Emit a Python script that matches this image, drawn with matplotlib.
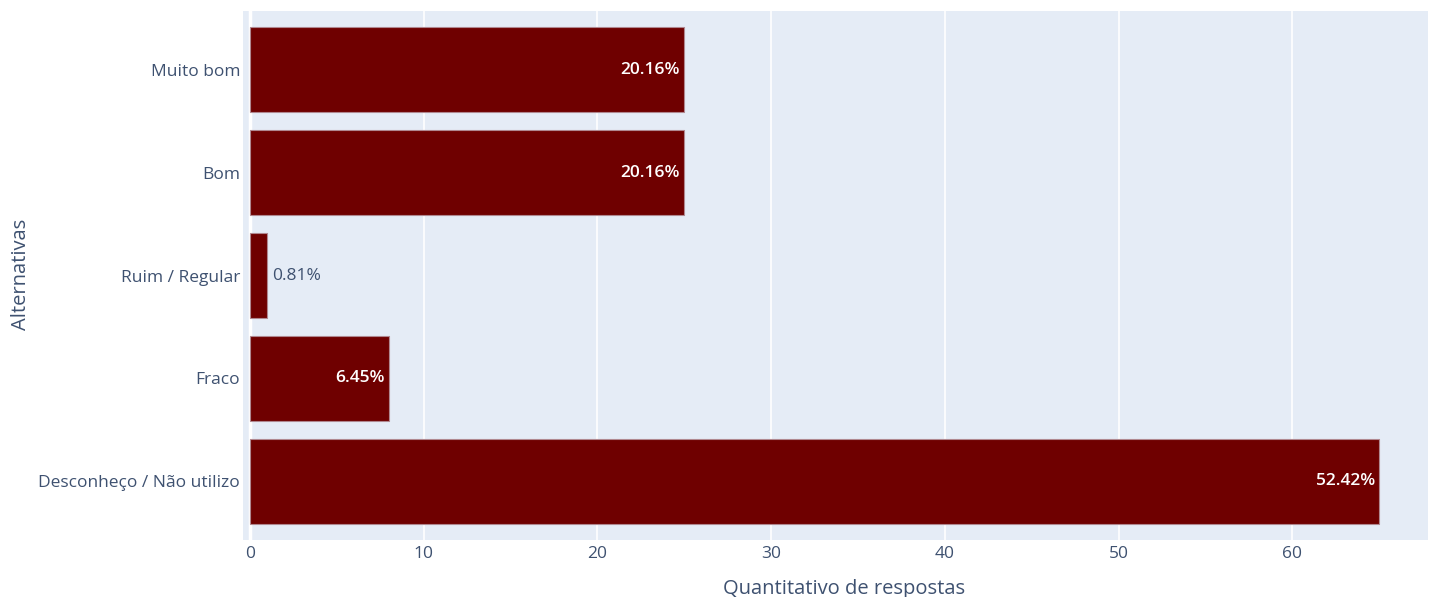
import matplotlib.pyplot as plt

plt.rcParams['font.family'] = ['Open Sans', 'DejaVu Sans']

alternativas = ['Muito bom', 'Bom', 'Ruim / Regular', 'Fraco', 'Desconheço / Não utilizo']
respostas = [25, 25, 1, 8, 65]
percentuais = ['20.16%', '20.16%', '0.81%', '6.45%', '52.42%']

cor_texto = '#3e5170'
cor_barra = '#6f0000'

fig = plt.figure(figsize=(14.29, 5.97), dpi=100)
ax = fig.add_axes([0.170, 0.0955, 0.8293, 0.886])
ax.set_facecolor('#e5ecf6')

pos = list(range(len(alternativas)))
ax.barh(pos, respostas, height=0.83, color=cor_barra, edgecolor='#b08890', linewidth=0.8, zorder=3)

for y, v, p in zip(pos, respostas, percentuais):
    if v >= 5:
        ax.text(v - 0.25, y, p, ha='right', va='center', color='white', fontsize=12.5, fontweight='semibold', zorder=4)
    else:
        ax.text(v + 0.3, y, p, ha='left', va='center', color=cor_texto, fontsize=12.5, zorder=4)

ax.set_xlim(-0.4, 67.8)
ax.set_ylim(4.57, -0.57)
ax.set_yticks(pos)
ax.set_yticklabels(alternativas)
ax.set_xticks([0, 10, 20, 30, 40, 50, 60])
ax.grid(axis='x', color='white', linewidth=1.2, zorder=0)
ax.axvline(0, color='white', linewidth=2.5, zorder=1)
ax.tick_params(length=0, colors=cor_texto, labelsize=12.5, pad=2)
ax.tick_params(axis='x', pad=4)
for s in ax.spines.values():
    s.set_visible(False)

fig.text(0.0145, 0.54, 'Alternativas', rotation=90, ha='center', va='center', color=cor_texto, fontsize=14.5)
fig.text(0.591, 0.013, 'Quantitativo de respostas', ha='center', va='center', color=cor_texto, fontsize=14.5)

fig.savefig('out.png', dpi=100)
